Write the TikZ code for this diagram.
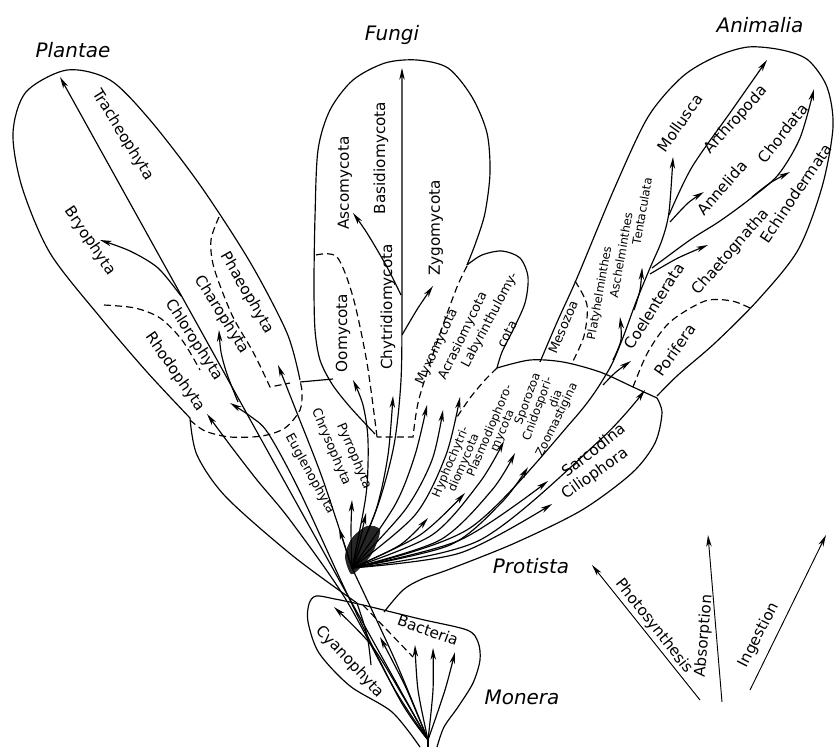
\documentclass[tikz,border=0pt]{standalone}
\usepackage{fontspec}
\setmainfont{DejaVu Sans}
\usetikzlibrary{arrows.meta}

\begin{document}
\begin{tikzpicture}[
    x=0.03cm, y=-0.03cm,
    >={Stealth[length=10pt,width=4.6pt,inset=3pt]},
    outline/.style={line width=1pt},
    border/.style={line width=1pt, dash pattern=on 6pt off 3.5pt},
    branch/.style={->, line width=1pt},
    grp/.style={font=\fontsize{13}{14}\selectfont, inner sep=0.5pt},
    grpsmall/.style={font=\fontsize{11}{12}\selectfont, inner sep=0.5pt},
    grptiny/.style={font=\fontsize{10}{11}\selectfont, inner sep=0.3pt},
    kingdom/.style={font=\fontsize{17}{19}\selectfont\itshape, inner sep=1pt}
]
    \useasboundingbox (0,0) rectangle (835,747);

    % Roots
    \coordinate (proroot) at (352,568);
    \coordinate (monroot) at (428,740);

    % Plantae lobe
    \draw[outline] plot[smooth] coordinates {(190,418) (147,372) (100,317) (50,253) (22,187) (13,133) (26,92) (67,70) (110,80) (150,120) (200,185) (250,262) (287,333) (300,380)};
    \draw[outline] plot[smooth] coordinates {(190,418) (197,455) (226,497) (293,556) (357,603)};
    \draw[border] plot[smooth] coordinates {(104,305) (135,308) (160,318) (182,340) (200,370)};
    \draw[border] plot[smooth] coordinates {(190,420) (205,431) (230,437) (262,436) (285,428) (300,410) (302,392) (300,381)};
    \draw[border] plot[smooth] coordinates {(219,217) (211,240) (214,268) (232,315) (252,350) (263,372) (270,387)} -- (290,383);
    \draw[outline] (300,382) -- (333,379);

    % Fungi lobe
    \draw[outline] plot[smooth] coordinates {(375,434) (350,407) (332,384) (320,360) (315,330) (314,283) (315,217) (318,150) (330,110) (353,80) (385,63) (417,60) (448,68) (472,97) (487,133) (490,173) (485,213) (476,242) (467,265)};
    \draw[border] plot[smooth] coordinates {(467,266) (457,287) (443,325) (430,363) (418,403) (413,437)} -- (377,437);
    \draw[border] plot[smooth] coordinates {(316,255) (337,257) (353,297) (367,363) (377,437)};

    % slime mould lobe
    \draw[outline] plot[smooth] coordinates {(467,265) (482,255) (502,251) (520,258) (528,277) (525,303) (513,330) (502,352) (497,368)};
    \draw[border] plot[smooth] coordinates {(497,368) (485,380) (470,398) (455,420)};

    % Animalia lobe
    \draw[outline] plot[smooth] coordinates {(540,362) (558,320) (577,278) (615,187) (648,117) (682,77) (715,57) (748,47) (782,50) (808,60) (827,87) (833,127) (822,187) (798,250) (758,300) (715,343) (678,375) (657,396)};
    \draw[border] plot[smooth] coordinates {(575,281) (587,305) (584,336) (572,363)};
    \draw[border] plot[smooth] coordinates {(633,387) (648,352) (670,322) (705,301) (732,301) (752,309)};

    % Protista border
    \draw[outline] plot[smooth] coordinates {(497,368) (530,360) (563,362) (600,372) (633,387) (657,398)};
    \draw[outline] plot[smooth] coordinates {(384,612) (403,590) (422,579) (450,569) (515,543) (582,510) (632,473) (655,443) (662,413) (657,398)};

    % Monera lobe
    \draw[outline] plot[smooth] coordinates {(420,747) (392,712) (350,686) (319,653) (308,622) (309,604) (316,596) (335,599) (363,605) (420,619) (467,630) (478,642) (480,660) (473,683) (458,707) (444,727) (437,747)};
    \draw[border] (363,605) -- (413,657);

    % dark fan at the protist root
    \fill[black!85] plot[smooth cycle] coordinates {(351,574) (345,556) (352,538) (367,526) (380,530) (373,552) (361,567)};

    % Plantae branches
    \draw[branch] (monroot) -- (60,77);
    \draw[branch] plot[smooth] coordinates {(181,296) (158,268) (130,251) (100,240)};
    \draw[branch] plot[smooth] coordinates {(238,402) (227,374) (221,352) (219,330)};
    \draw[branch] plot[smooth] coordinates {(monroot) (400,700) (350,600) (300,492) (268,433) (250,416) (230,403)};
    \draw[branch] plot[smooth] coordinates {(monroot) (395,690) (345,598) (290,520) (257,480) (230,445) (207,414)};
    \draw[branch] plot[smooth] coordinates {(proroot) (323,480) (297,413) (278,365)};

    % Protist algae
    \draw[branch] (proroot) -- (339,528);
    \draw[branch] plot[smooth] coordinates {(proroot) (351,530) (352,500)};
    \draw[branch] plot[smooth] coordinates {(proroot) (360,540) (366,513)};

    % Fungi branches
    \draw[branch] plot[smooth] coordinates {(proroot) (378,505) (394,445) (401,380) (402,300) (402,180) (402,68)};
    \draw[branch] plot[smooth] coordinates {(401,295) (387,267) (367,233) (353,213)};
    \draw[branch] plot[smooth] coordinates {(402,335) (418,308) (433,286)};
    \draw[branch] plot[smooth] coordinates {(proroot) (376,510) (388,455) (393,396)};
    \draw[branch] plot[smooth] coordinates {(proroot) (366,495) (368,440) (363,405) (353,380)};

    % slime moulds and protozoa
    \draw[branch] plot[smooth] coordinates {(proroot) (395,505) (415,455) (427,405)};
    \draw[branch] plot[smooth] coordinates {(proroot) (405,510) (432,460) (443,410)};
    \draw[branch] plot[smooth] coordinates {(proroot) (415,515) (446,455) (460,397)};
    \draw[branch] plot[smooth] coordinates {(proroot) (400,545) (428,518)};
    \draw[branch] plot[smooth] coordinates {(proroot) (420,535) (465,493)};
    \draw[branch] plot[smooth] coordinates {(proroot) (432,535) (480,482) (504,441)};
    \draw[branch] plot[smooth] coordinates {(proroot) (440,540) (492,490) (515,453)};
    \draw[branch] plot[smooth] coordinates {(proroot) (450,545) (502,502) (528,467)};
    \draw[branch] plot[smooth] coordinates {(proroot) (460,540) (548,481)};
    \draw[branch] plot[smooth] coordinates {(proroot) (460,553) (552,504)};
    \draw[branch] plot[smooth] coordinates {(proroot) (480,540) (600,440) (645,390)};

    % Animalia branches
    \draw[branch] plot[smooth] coordinates {(proroot) (470,528) (573,420) (607,373) (622,340) (636,302) (650,268) (662,240) (669,212) (673,157)};
    \draw[branch] plot[smooth] coordinates {(669,215) (692,167) (732,110) (767,60)};
    \draw[branch] plot[smooth] coordinates {(670,222) (688,203) (704,192)};
    \draw[branch] plot[smooth] coordinates {(652,268) (690,240) (720,221) (750,199) (778,175) (800,138) (814,89)};
    \draw[branch] plot[smooth] coordinates {(752,197) (770,183) (790,172)};
    \draw[branch] plot[smooth] coordinates {(650,274) (678,258) (708,245)};
    \draw[branch] plot[smooth] coordinates {(634,310) (640,290) (642,268)};
    \draw[branch] plot[smooth] coordinates {(613,360) (621,340) (620,317)};
    \draw[branch] plot[smooth] coordinates {(603,385) (616,372) (631,361)};

    % Monera branches
    \draw[outline] (monroot) -- (428,747);
    \draw[outline] plot[smooth] coordinates {(monroot) (395,660) (proroot)};
    \draw[outline] plot[smooth] coordinates {(357,603) (367,635) (371,665)};
    \draw[branch] plot[smooth] coordinates {(monroot) (404,698) (372,646) (334,607)};
    \draw[branch] plot[smooth] coordinates {(monroot) (407,690) (392,660) (380,637)};
    \draw[branch] plot[smooth] coordinates {(monroot) (418,690) (415,645)};
    \draw[branch] plot[smooth] coordinates {(monroot) (433,690) (433,648)};
    \draw[branch] plot[smooth] coordinates {(monroot) (445,690) (455,652)};

    % Nutrition arrows
    \coordinate (photo0) at (700,700);
    \coordinate (photo1) at (592,565);
    \coordinate (absorb0) at (722,702);
    \coordinate (absorb1) at (708,535);
    \coordinate (ingest0) at (750,690);
    \coordinate (ingest1) at (826,535);
    \draw[branch, line width=0.8pt] (photo0) -- (photo1);
    \draw[branch, line width=0.8pt] (absorb0) -- (absorb1);
    \draw[branch, line width=0.8pt] (ingest0) -- (ingest1);

    % Kingdom names
    \node[kingdom] (plantae) at (73,50) {Plantae};
    \node[kingdom] (fungi) at (392,35) {Fungi};
    \node[kingdom] (animalia) at (760,25) {Animalia};
    \node[kingdom] (protista) at (531,566) {Protista};
    \node[kingdom] (monera) at (522,697) {Monera};

    % Plantae labels
    \node[grp, rotate=-58] (trach) at (123,135) {Tracheophyta};
    \node[grp, rotate=-56] (bryo) at (90,241) {Bryophyta};
    \node[grp, rotate=-57] (chloro) at (194,340) {Chlorophyta};
    \node[grp, rotate=-55] (rhodo) at (175,372) {Rhodophyta};
    \node[grp, rotate=-58] (charo) at (222,315) {Charophyta};
    \node[grp, rotate=-60] (phaeo) at (247,293) {Phaeophyta};

    % Fungi labels
    \node[grp, rotate=90] (asco) at (345,183) {Ascomycota};
    \node[grp, rotate=90] (basid) at (381,158) {Basidiomycota};
    \node[grp, rotate=90] (zygo) at (436,228) {Zygomycota};
    \node[grp, rotate=90] (chytr) at (388,307) {Chytridiomycota};
    \node[grp, rotate=90] (oomy) at (343,333) {Oomycota};

    % Protista labels
    \node[grpsmall, rotate=-61] (eugl) at (310,474) {Euglenophyta};
    \node[grpsmall, rotate=-67] (chryso) at (331,447) {Chrysophyta};
    \node[grpsmall, rotate=-67] (pyrro) at (354,456) {Pyrrophyta};
    \node[grpsmall, rotate=65] (myxo) at (437,347) {Myxomycota};
    \node[grpsmall, rotate=64] (acras) at (463,336) {Acrasiomycota};
    \node[grpsmall, rotate=62] (labyr) at (490,320) {Labyrinthulomy-};
    \node[grpsmall, rotate=62] (labyrb) at (507,334) {cota};
    \node[grptiny, rotate=67] (hypho) at (451,462) {Hyphochytri-};
    \node[grptiny, rotate=67] (hyphob) at (464,463) {diomycota};
    \node[grptiny, rotate=67] (plasmo) at (490,431) {Plasmodiophoro-};
    \node[grptiny, rotate=67] (plasmob) at (503,431) {mycota};
    \node[grptiny, rotate=70] (sporo) at (528,399) {Sporozoa};
    \node[grptiny, rotate=70] (cnido) at (538,409) {Cnidospori-};
    \node[grptiny, rotate=70] (cnidob) at (555,399) {dia};
    \node[grptiny, rotate=64] (zoomast) at (557,420) {Zoomastigina};
    \node[grp, rotate=38] (sarco) at (593,450) {Sarcodina};
    \node[grp, rotate=35] (cilio) at (595,474) {Ciliophora};

    % Animalia labels
    \node[grp, rotate=55] (moll) at (680,123) {Mollusca};
    \node[grp, rotate=48] (arthr) at (736,120) {Arthropoda};
    \node[grp, rotate=49] (annel) at (722,188) {Annelida};
    \node[grp, rotate=52] (chord) at (783,133) {Chordata};
    \node[grp, rotate=56] (echin) at (796,193) {Echinodermata};
    \node[grp, rotate=49] (chaeto) at (731,252) {Chaetognatha};
    \node[grp, rotate=58] (coelen) at (654,306) {Coelenterata};
    \node[grp, rotate=55] (porif) at (675,350) {Porifera};
    \node[grptiny, rotate=80] (tentac) at (642,211) {Tentaculata};
    \node[grptiny, rotate=80] (aschel) at (621,255) {Aschelminthes};
    \node[grptiny, rotate=80] (platy) at (600,293) {Platyhelminthes};
    \node[grpsmall, rotate=67] (meso) at (563,327) {Mesozoa};

    % Monera labels
    \node[grp, rotate=-47] (cyano) at (350,662) {Cyanophyta};
    \node[grp, rotate=-20] (bact) at (428,630) {Bacteria};

    % Nutrition labels
    \node[grp, rotate=-52] (photol) at (654,626) {Photosynthesis};
    \node[grp, rotate=85] (absorbl) at (704,636) {Absorption};
    \node[grp, rotate=63] (ingestl) at (759,635) {Ingestion};

\end{tikzpicture}
\end{document}
